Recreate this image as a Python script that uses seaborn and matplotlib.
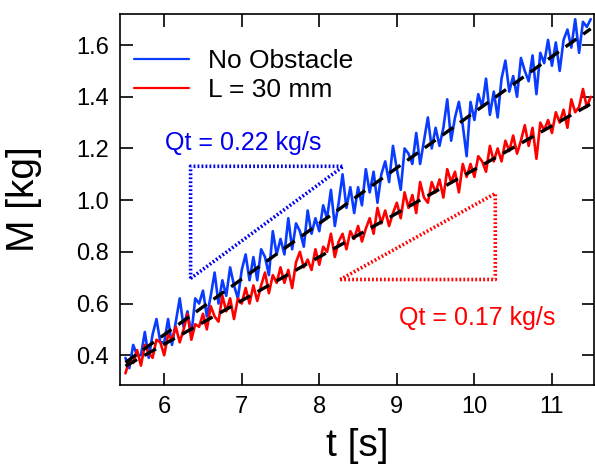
import numpy as np
import pandas as pd
import matplotlib
matplotlib.use("Agg")
import matplotlib.pyplot as plt
import seaborn as sns

# sampling times (s), 0.05 s step
t = np.round(np.arange(5.5, 11.5001, 0.05), 2)

# mass readings, no obstacle (kg)
m_free = [0.39, 0.35, 0.44, 0.40, 0.40, 0.49, 0.39, 0.48, 0.54, 0.45,
          0.45, 0.54, 0.44, 0.53, 0.62, 0.51, 0.57, 0.48, 0.62, 0.60,
          0.65, 0.55, 0.63, 0.72, 0.60, 0.69, 0.63, 0.74, 0.67, 0.62,
          0.73, 0.79, 0.69, 0.78, 0.69, 0.81, 0.78, 0.71, 0.88, 0.79,
          0.85, 0.79, 0.93, 0.81, 0.91, 0.88, 0.82, 0.96, 0.87, 0.93,
          0.88, 0.98, 0.93, 1.04, 0.90, 0.99, 1.10, 0.97, 1.05, 0.95,
          1.05, 0.98, 1.12, 1.03, 1.11, 0.99, 1.10, 1.15, 1.07, 1.21,
          1.12, 1.04, 1.20, 1.18, 1.14, 1.26, 1.14, 1.23, 1.32, 1.20,
          1.28, 1.21, 1.28, 1.39, 1.23, 1.32, 1.38, 1.29, 1.17, 1.38,
          1.31, 1.41, 1.36, 1.47, 1.33, 1.42, 1.32, 1.47, 1.54, 1.42,
          1.48, 1.40, 1.55, 1.50, 1.46, 1.56, 1.41, 1.57, 1.53, 1.62,
          1.52, 1.61, 1.50, 1.62, 1.66, 1.59, 1.70, 1.57, 1.69, 1.67, 1.70]

# mass readings, L = 30 mm (kg)
m_30 = [0.33, 0.38, 0.37, 0.42, 0.36, 0.44, 0.41, 0.39, 0.46, 0.45,
        0.40, 0.48, 0.46, 0.51, 0.45, 0.50, 0.56, 0.46, 0.52, 0.51,
        0.56, 0.50, 0.59, 0.55, 0.53, 0.63, 0.57, 0.62, 0.54, 0.62,
        0.60, 0.66, 0.60, 0.67, 0.61, 0.67, 0.72, 0.64, 0.71, 0.68,
        0.74, 0.68, 0.73, 0.66, 0.76, 0.80, 0.74, 0.77, 0.73, 0.81,
        0.75, 0.82, 0.80, 0.87, 0.78, 0.84, 0.87, 0.81, 0.88, 0.85,
        0.90, 0.84, 0.89, 0.93, 0.87, 0.97, 0.91, 0.96, 0.90, 0.95,
        0.99, 0.93, 1.03, 0.97, 1.02, 0.95, 1.07, 1.01, 0.99, 1.07,
        1.03, 1.08, 1.01, 1.12, 1.07, 1.11, 1.03, 1.14, 1.09, 1.14,
        1.09, 1.17, 1.15, 1.11, 1.21, 1.15, 1.20, 1.15, 1.23, 1.19,
        1.25, 1.18, 1.23, 1.29, 1.21, 1.28, 1.16, 1.30, 1.27, 1.31,
        1.26, 1.34, 1.30, 1.35, 1.28, 1.39, 1.34, 1.36, 1.43, 1.36, 1.40]

# linear fits (end points)
fit_t = [5.5, 11.5]
fit_free = [0.372, 1.663]
fit_30 = [0.358, 1.372]

# slope triangles
tri_free_t = [6.34, 6.34, 8.31, 6.34]
tri_free_m = [0.697, 1.131, 1.131, 0.697]
tri_30_t = [8.27, 10.27, 10.27, 8.27]
tri_30_m = [0.693, 0.693, 1.026, 0.693]

labels = ["No Obstacle", "L = 30 mm"]
colours = {"No Obstacle": "#0a3cff", "L = 30 mm": "#ff0000"}

df = pd.DataFrame({"t": np.concatenate([t, t]),
                   "M": m_free + m_30,
                   "case": [labels[0]] * len(t) + [labels[1]] * len(t)})

sns.set_style("ticks")
plt.rcParams['font.family'] = ['Liberation Sans', 'DejaVu Sans']
plt.rcParams['text.color'] = 'black'
plt.rcParams['axes.labelcolor'] = 'black'

fig = plt.figure(figsize=(5.95, 4.68), dpi=100)
ax = fig.add_axes([0.2017, 0.1774, 0.7963, 0.7926])

sns.lineplot(data=df, x="t", y="M", hue="case", palette=colours,
             linewidth=1.9, ax=ax, estimator=None, sort=False)

ax.plot(fit_t, fit_free, color="black", lw=2.4, dashes=(4, 2.5))
ax.plot(fit_t, fit_30, color="black", lw=2.4, dashes=(4, 2.5))

ax.plot(tri_free_t, tri_free_m, color="#0000ee", lw=2.6, ls=(0, (0.5, 0.6)))
ax.plot(tri_30_t, tri_30_m, color="#ff0000", lw=2.6, ls=(0, (0.5, 0.6)))

ax.text(7.02, 1.22, "Qt = 0.22 kg/s", color="#0000ee", fontsize=18,
        ha="center", va="center")
ax.text(10.04, 0.546, "Qt = 0.17 kg/s", color="#ff0000", fontsize=18,
        ha="center", va="center")

ax.set_xlim(5.43, 11.54)
ax.set_ylim(0.285, 1.72)
ax.set_xticks(np.arange(6, 12, 1))
ax.set_yticks([0.4, 0.6, 0.8, 1.0, 1.2, 1.4, 1.6])
ax.set_yticklabels(["0.4", "0.6", "0.8", "1.0", "1.2", "1.4", "1.6"])
ax.tick_params(direction="in", length=9, width=1.2, labelsize=17,
               top=True, right=True, pad=8, colors="black")
for s in ax.spines.values():
    s.set_linewidth(1.2)
    s.set_color("black")

ax.set_xlabel("t [s]", fontsize=28, color="black")
ax.set_ylabel("M [kg]", fontsize=28, color="black")
ax.xaxis.set_label_coords(0.5, -0.115)
ax.yaxis.set_label_coords(-0.165, 0.5)

leg = ax.legend(loc="upper left", bbox_to_anchor=(-0.01, 0.955), frameon=False,
                fontsize=19, handlelength=2.1, labelspacing=0.2,
                handletextpad=0.7, borderaxespad=0.3)
for h in leg.get_lines():
    h.set_linewidth(1.6)
for txt in leg.get_texts():
    txt.set_color("black")

fig.savefig("out.png", dpi=100)
